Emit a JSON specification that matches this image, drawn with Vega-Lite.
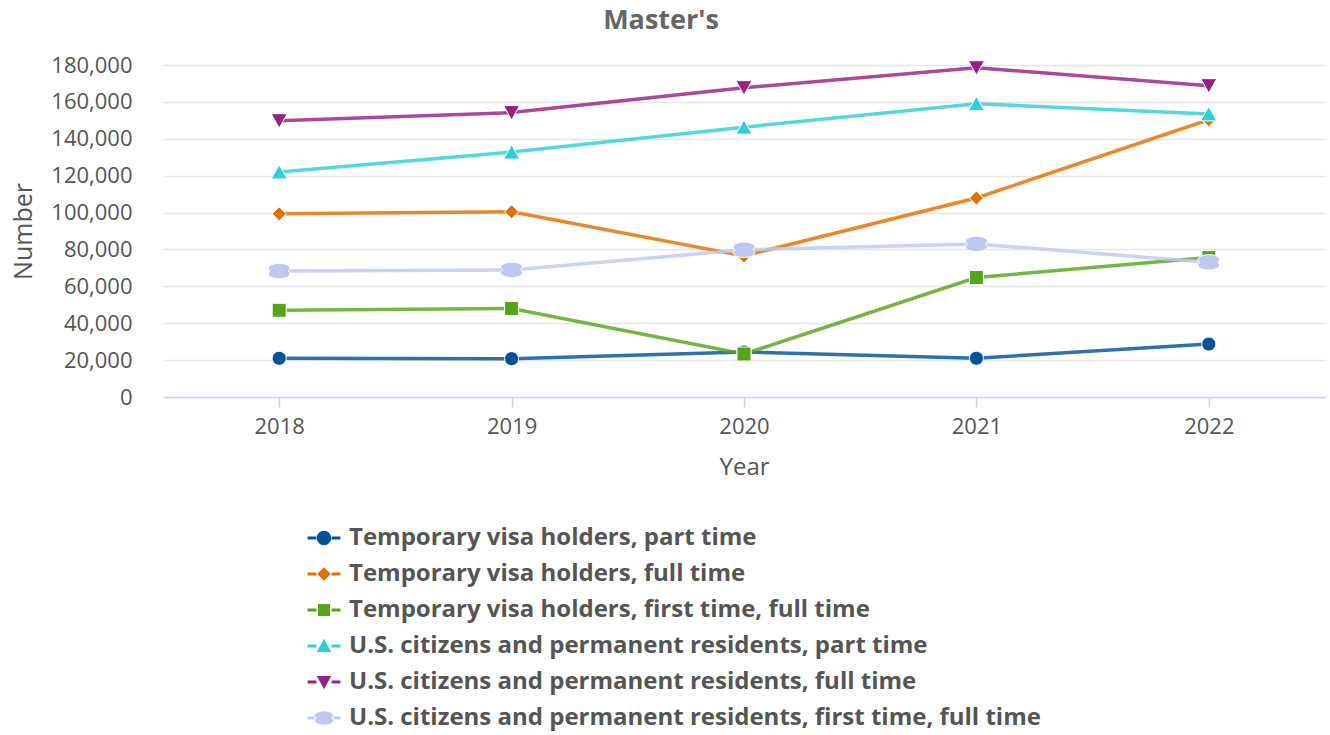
{
  "$schema": "https://vega.github.io/schema/vega-lite/v6.json",
  "width": 1162,
  "height": 332,
  "autosize": {"type": "none"},
  "padding": {"left": 163, "top": 65, "right": 5, "bottom": 338},
  "background": "white",
  "title": {"text": "Master's", "fontSize": 27, "fontWeight": "bold", "color": "#666666", "font": "Open Sans", "anchor": "middle", "dx": -83, "offset": 19},
  "config": {
    "view": {"stroke": null},
    "font": "Open Sans"
  },
  "data": {
    "values": [
      {"year": "2018", "series": "Temporary visa holders, part time", "value": 21000},
      {"year": "2019", "series": "Temporary visa holders, part time", "value": 20800},
      {"year": "2020", "series": "Temporary visa holders, part time", "value": 24400},
      {"year": "2021", "series": "Temporary visa holders, part time", "value": 21000},
      {"year": "2022", "series": "Temporary visa holders, part time", "value": 28700},
      {"year": "2018", "series": "Temporary visa holders, full time", "value": 99300},
      {"year": "2019", "series": "Temporary visa holders, full time", "value": 100400},
      {"year": "2020", "series": "Temporary visa holders, full time", "value": 76500},
      {"year": "2021", "series": "Temporary visa holders, full time", "value": 107900},
      {"year": "2022", "series": "Temporary visa holders, full time", "value": 150300},
      {"year": "2018", "series": "Temporary visa holders, first time, full time", "value": 47000},
      {"year": "2019", "series": "Temporary visa holders, first time, full time", "value": 48000},
      {"year": "2020", "series": "Temporary visa holders, first time, full time", "value": 23300},
      {"year": "2021", "series": "Temporary visa holders, first time, full time", "value": 64800},
      {"year": "2022", "series": "Temporary visa holders, first time, full time", "value": 75600},
      {"year": "2018", "series": "U.S. citizens and permanent residents, part time", "value": 122000},
      {"year": "2019", "series": "U.S. citizens and permanent residents, part time", "value": 132800},
      {"year": "2020", "series": "U.S. citizens and permanent residents, part time", "value": 146300},
      {"year": "2021", "series": "U.S. citizens and permanent residents, part time", "value": 159000},
      {"year": "2022", "series": "U.S. citizens and permanent residents, part time", "value": 153500},
      {"year": "2018", "series": "U.S. citizens and permanent residents, full time", "value": 149800},
      {"year": "2019", "series": "U.S. citizens and permanent residents, full time", "value": 154200},
      {"year": "2020", "series": "U.S. citizens and permanent residents, full time", "value": 167700},
      {"year": "2021", "series": "U.S. citizens and permanent residents, full time", "value": 178500},
      {"year": "2022", "series": "U.S. citizens and permanent residents, full time", "value": 168800},
      {"year": "2018", "series": "U.S. citizens and permanent residents, first time, full time", "value": 68300},
      {"year": "2019", "series": "U.S. citizens and permanent residents, first time, full time", "value": 68900},
      {"year": "2020", "series": "U.S. citizens and permanent residents, first time, full time", "value": 79800},
      {"year": "2021", "series": "U.S. citizens and permanent residents, first time, full time", "value": 83000},
      {"year": "2022", "series": "U.S. citizens and permanent residents, first time, full time", "value": 73000}
    ]
  },
  "encoding": {
    "x": {
      "field": "year", "type": "ordinal",
      "scale": {"type": "point", "padding": 0.5},
      "axis": {
        "title": "Year", "labelAngle": 0, "labelFontSize": 22, "labelColor": "#555555",
        "titleFontSize": 24, "titleFontWeight": "normal", "titleColor": "#555555",
        "domainColor": "#ccd6eb", "domainWidth": 1.5, "tickColor": "#ccd6eb", "tickSize": 10, "tickWidth": 1.5,
        "labelPadding": 9, "titlePadding": 18, "grid": false
      }
    },
    "y": {
      "field": "value", "type": "quantitative",
      "scale": {"domain": [0, 180000], "nice": false},
      "axis": {
        "title": "Number", "values": [0, 20000, 40000, 60000, 80000, 100000, 120000, 140000, 160000, 180000],
        "format": ",d", "labelFontSize": 22, "labelColor": "#555555",
        "titleFontSize": 25, "titleFontWeight": "normal", "titleColor": "#555555",
        "domain": false, "ticks": false, "labelPadding": 31, "titlePadding": 14,
        "gridColor": "#e6e6e6", "gridWidth": 1.5
      }
    },
    "color": {
      "field": "series", "type": "nominal",
      "scale": {
        "domain": [
          "Temporary visa holders, part time",
          "Temporary visa holders, full time",
          "Temporary visa holders, first time, full time",
          "U.S. citizens and permanent residents, part time",
          "U.S. citizens and permanent residents, full time",
          "U.S. citizens and permanent residents, first time, full time"
        ],
        "range": ["#00539b", "#e07000", "#55a51b", "#2dd0d9", "#972085", "#bfc8f2"]
      },
      "legend": {
        "title": null, "orient": "none", "legendX": 149, "legendY": 461, "direction": "vertical",
        "symbolSize": 256, "symbolStrokeWidth": 0, "symbolOpacity": 1, "labelFontSize": 24, "labelFontWeight": "bold",
        "labelColor": "#555555", "labelFont": "Open Sans", "labelOffset": 13, "rowPadding": 12,
        "labelLimit": 900, "padding": 0
      }
    }
  },
  "layer": [
    {
      "mark": {"type": "line", "strokeWidth": 3.5, "opacity": 0.82}
    },
    {
      "transform": [{"filter": {"field": "series", "equal": "Temporary visa holders, part time"}}],
      "mark": {"type": "point", "filled": true, "opacity": 1, "size": 196, "stroke": "white", "strokeWidth": 1,
        "shape": "M1,0A1,1 0 1,1 -1,0A1,1 0 1,1 1,0Z"}
    },
    {
      "transform": [{"filter": {"field": "series", "equal": "Temporary visa holders, full time"}}],
      "mark": {"type": "point", "filled": true, "opacity": 1, "size": 196, "stroke": "white", "strokeWidth": 1,
        "shape": "M0,-1L1,0L0,1L-1,0Z"}
    },
    {
      "transform": [{"filter": {"field": "series", "equal": "Temporary visa holders, first time, full time"}}],
      "mark": {"type": "point", "filled": true, "opacity": 1, "size": 196, "stroke": "white", "strokeWidth": 1,
        "shape": "M-1,-1H1V1H-1Z"}
    },
    {
      "transform": [{"filter": {"field": "series", "equal": "U.S. citizens and permanent residents, part time"}}],
      "mark": {"type": "point", "filled": true, "opacity": 1, "size": 196, "stroke": "white", "strokeWidth": 1,
        "shape": "M0,-1.05L1.15,1H-1.15Z"}
    },
    {
      "transform": [{"filter": {"field": "series", "equal": "U.S. citizens and permanent residents, full time"}}],
      "mark": {"type": "point", "filled": true, "opacity": 1, "size": 196, "stroke": "white", "strokeWidth": 1,
        "shape": "M0,1.05L1.15,-1H-1.15Z"}
    },
    {
      "transform": [{"filter": {"field": "series", "equal": "U.S. citizens and permanent residents, first time, full time"}}],
      "mark": {"type": "point", "filled": true, "opacity": 1, "size": 196, "stroke": "white", "strokeWidth": 1,
        "shape": "M1.272,0A1.55,0.7 0 1,1 -1.272,0A1.55,0.7 0 1,1 1.272,0Z"}
    },
    {
      "transform": [{"filter": {"field": "series", "equal": "none"}}],
      "mark": {"type": "point", "filled": true, "opacity": 1, "strokeWidth": 0},
      "encoding": {
        "shape": {
          "field": "series", "type": "nominal",
          "scale": {
            "domain": [
              "Temporary visa holders, part time",
              "Temporary visa holders, full time",
              "Temporary visa holders, first time, full time",
              "U.S. citizens and permanent residents, part time",
              "U.S. citizens and permanent residents, full time",
              "U.S. citizens and permanent residents, first time, full time"
            ],
            "range": [
              "M-2.05,-0.19H-0.95V0.19H-2.05Z M0.95,-0.19H2.05V0.19H0.95Z M0.9,0A0.9,0.9 0 1,1 -0.9,0A0.9,0.9 0 1,1 0.9,0Z",
              "M-2.05,-0.19H-0.95V0.19H-2.05Z M0.95,-0.19H2.05V0.19H0.95Z M0,-0.85L0.85,0L0,0.85L-0.85,0Z",
              "M-2.05,-0.19H-0.95V0.19H-2.05Z M0.95,-0.19H2.05V0.19H0.95Z M-0.75,-0.75H0.75V0.75H-0.75Z",
              "M-2.05,-0.19H-0.95V0.19H-2.05Z M0.95,-0.19H2.05V0.19H0.95Z M0,-0.9L0.9,0.75H-0.9Z",
              "M-2.05,-0.19H-0.95V0.19H-2.05Z M0.95,-0.19H2.05V0.19H0.95Z M0,0.9L0.9,-0.75H-0.9Z",
              "M-2.05,-0.19H-1.2V0.19H-2.05Z M1.2,-0.19H2.05V0.19H1.2Z M0.9,0A1.15,0.5 0 1,1 -0.9,0A1.15,0.5 0 1,1 0.9,0Z"
            ]
          },
          "legend": {
            "title": null, "orient": "none", "legendX": 149, "legendY": 461, "direction": "vertical",
            "symbolSize": 256, "symbolStrokeWidth": 0, "symbolOpacity": 1, "labelFontSize": 24, "labelFontWeight": "bold",
            "labelColor": "#555555", "labelFont": "Open Sans", "labelOffset": 13, "rowPadding": 12,
            "labelLimit": 900, "padding": 0
          }
        }
      }
    }
  ]
}
